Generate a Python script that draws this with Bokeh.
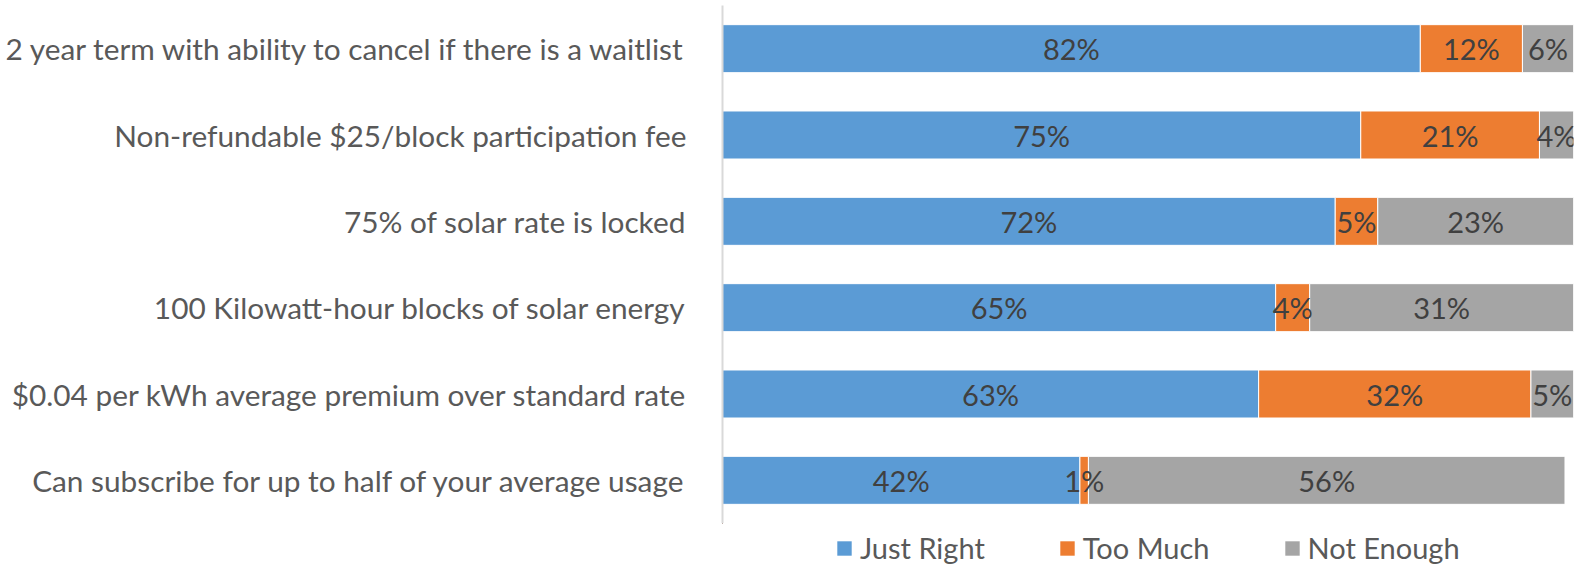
from bokeh.plotting import figure
from bokeh.layouts import column
from bokeh.models import ColumnDataSource, Range1d, FixedTicker, Legend, LegendItem
from bokeh.embed import file_html
from bokeh.resources import INLINE
from bokeh.core.properties import value

categories = [
    "2 year term with ability to cancel if there is a waitlist",
    "Non-refundable $25/block participation fee",
    "75% of solar rate is locked",
    "100 Kilowatt-hour blocks of solar energy",
    "$0.04 per kWh average premium over standard rate",
    "Can subscribe for up to half of your average usage",
]
just_right = [82, 75, 72, 65, 63, 42]
too_much = [12, 21, 5, 4, 32, 1]
not_enough = [6, 4, 23, 31, 5, 56]
series_names = ["Just Right", "Too Much", "Not Enough"]
colors = ["#5B9BD5", "#ED7D31", "#A5A5A5"]

FONT = "Lato"

ypos = list(range(len(categories)))

p = figure(width=1578, height=523, output_backend="svg", toolbar_location=None,
           x_range=Range1d(0, 100), y_range=Range1d(len(categories) - 0.5, -0.5),
           min_border_left=722, min_border_right=5, min_border_top=5, min_border_bottom=0)
p.outline_line_color = None
p.xgrid.visible = False
p.ygrid.visible = False
p.xaxis.visible = False

series = [just_right, too_much, not_enough]
left = [0] * len(categories)
sources = []
for name, vals, col in zip(series_names, series, colors):
    right = [l + v for l, v in zip(left, vals)]
    src = ColumnDataSource(dict(y=ypos, left=left, right=right,
                                mid=[(l + r) / 2 for l, r in zip(left, right)],
                                lab=[f"{v}%" for v in vals]))
    p.hbar(y="y", left="left", right="right", height=0.556, source=src,
           fill_color=col, line_color="white", line_width=1)
    sources.append(src)
    left = right

for src in sources:
    p.text(x="mid", y="y", text="lab", source=src, text_align="center",
           text_baseline="middle", text_color="#404040", text_font_size="29px",
           text_font=value(FONT))

ax = p.yaxis[0]
ax.ticker = FixedTicker(ticks=ypos)
ax.major_label_overrides = {i: c for i, c in zip(ypos, categories)}
ax.major_tick_line_color = None
ax.minor_tick_line_color = None
ax.axis_line_color = "#D9D9D9"
ax.axis_line_width = 2
ax.major_label_text_font = FONT
ax.major_label_text_font_size = "29.8px"
ax.major_label_text_color = "#595959"
ax.major_label_standoff = 30

# legend strip below the chart (its frame is aligned with the chart frame);
# its renderers share the chart's data but lie far outside this strip's view range
lg = figure(width=1578, height=41, output_backend="svg", toolbar_location=None,
            x_range=Range1d(1000, 1100), y_range=Range1d(-1000, -999), min_border=0)
lg.outline_line_color = None
lg.xgrid.visible = False
lg.ygrid.visible = False
lg.xaxis.visible = False
lg.yaxis.visible = False
items = []
for name, col, src in zip(series_names, colors, sources):
    r = lg.hbar(y="y", left="left", right="right", height=0.556, source=src,
                fill_color=col, line_color=None)
    items.append(LegendItem(label=name, renderers=[r]))
legend = Legend(items=items, orientation="horizontal", border_line_color=None,
                location=(113, -1),
                label_text_font=FONT, label_text_font_size="29px", label_text_color="#595959",
                glyph_width=18, glyph_height=18, spacing=73, label_standoff=7,
                padding=0, margin=0, background_fill_alpha=0)
lg.add_layout(legend, "center")

layout = column(p, lg, spacing=0)
open("out.html", "w").write(file_html(layout, INLINE))
